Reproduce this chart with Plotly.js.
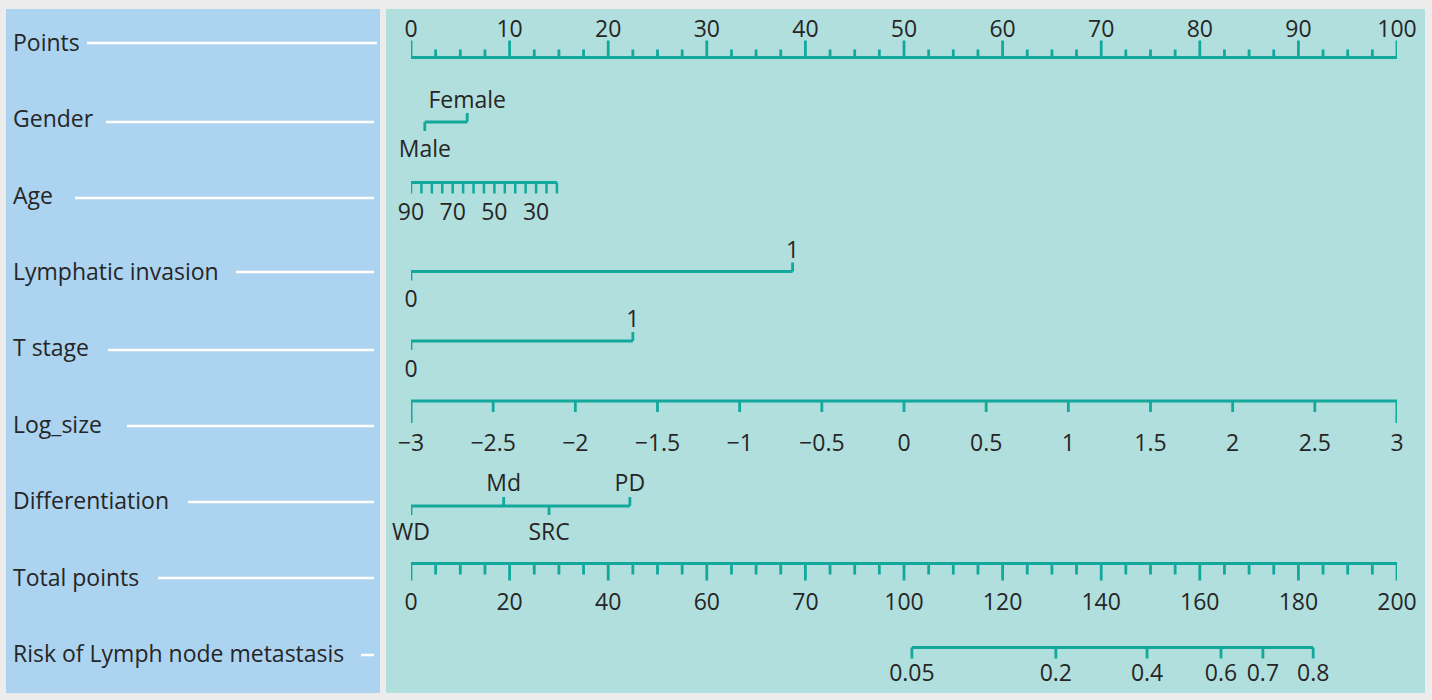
<!DOCTYPE html>
<html>
<head>
<meta charset="utf-8">
<script src="https://cdn.plot.ly/plotly-3.0.1.min.js"></script>
<style>
  html, body { margin: 0; padding: 0; background: #ececec; }
  #chart { width: 1432px; height: 700px; }
</style>
</head>
<body>
<div id="chart"></div>
<script>
// ---------------- DATA ----------------
const rowNames = ['Points', 'Gender', 'Age', 'Lymphatic invasion', 'T stage', 'Log_size',
                  'Differentiation', 'Total points', 'Risk of Lymph node metastasis'];

const pointsTicks = [0, 10, 20, 30, 40, 50, 60, 70, 80, 90, 100];

const genderLabels = ['Male', 'Female'];
const genderPoints = [1.4, 5.7];

const ageLabels = [90, 70, 50, 30];
const ageTicks = [90, 85, 80, 75, 70, 65, 60, 55, 50, 45, 40, 35, 30, 25, 20];
const ageMaxPoints = 14.8;          // points given to age 20 (age 90 = 0 points)

const lymphLabels = ['0', '1'];
const lymphPoints = [0, 38.7];

const tstageLabels = ['0', '1'];
const tstagePoints = [0, 22.5];

const logsizeTicks = [-3, -2.5, -2, -1.5, -1, -0.5, 0, 0.5, 1, 1.5, 2, 2.5, 3];
const logsizeLabels = ['\u22123', '\u22122.5', '\u22122', '\u22121.5', '\u22121', '\u22120.5',
                       '0', '0.5', '1', '1.5', '2', '2.5', '3'];

const diffLabels = ['WD', 'Md', 'SRC', 'PD'];
const diffPoints = [0, 9.4, 14.0, 22.2];

const totalTicks = [0, 20, 40, 60, 80, 100, 120, 140, 160, 180, 200];
const totalLabels = ['0', '20', '40', '60', '70', '100', '120', '140', '160', '180', '200'];

const riskLabels = ['0.05', '0.2', '0.4', '0.6', '0.7', '0.8'];
const riskTotalPoints = [101.6, 130.8, 149.3, 164.3, 172.8, 183.0];

// ---------------- STYLE / LAYOUT ----------------
const W = 1432, H = 700;
const TEAL = '#12a89c';
const TXT = '#262626';
const FONT = 'Open Sans, Noto Sans, sans-serif';
const FS = 23;
const TEXT_DY = 3;                  // vertical nudge for scatter text
const axisLeftPx = 411, axisRightPx = 1397;

// pixel rows (y measured from top)
const R = {
  points:  { line: 57.5, major: 17, minor: 8, label: 28 },
  gender:  { line: 122, tick: 9, above: 99, below: 148, sides: ['below', 'above'] },
  age:     { line: 182.5, tick: 11, label: 211 },
  lymph:   { line: 271.5, tick: 9, above: 249, below: 298, sides: ['below', 'above'] },
  tstage:  { line: 341, tick: 9, above: 318, below: 368, sides: ['below', 'above'] },
  logsize: { line: 401, tick: 11, endTick: 22, label: 442 },
  diff:    { line: 506, tick: 9, above: 482, below: 531, sides: ['below', 'above', 'below', 'above'] },
  total:   { line: 563.5, major: 17, minor: 11, label: 601 },
  risk:    { line: 647.5, tick: 11, label: 672 }
};

// left panel: label y centre and start of white rule
const leftRows = [
  { y: 42, rule: 87 }, { y: 118, rule: 106 }, { y: 195, rule: 75 }, { y: 271, rule: 236 },
  { y: 347, rule: 108 }, { y: 424, rule: 127 }, { y: 500, rule: 188 }, { y: 577, rule: 158 },
  { y: 653, rule: 361 }
];
const ruleY = [43, 122, 198, 272, 350, 426, 502, 578, 655];

// ---------------- helpers ----------------
function segs(xs, y0, y1) {
  const x = [], y = [];
  xs.forEach(v => { x.push(v, v, null); y.push(y0, y1, null); });
  return { x, y };
}
function lines(axis, x, y, width) {
  return { type: 'scatter', mode: 'lines', x, y, xaxis: axis, yaxis: 'y',
           line: { color: TEAL, width: width || 3 }, hoverinfo: 'skip', showlegend: false,
           cliponaxis: false };
}
function texts(axis, xs, y, t) {
  const ys = (Array.isArray(y) ? y : xs.map(() => y)).map(v => v + TEXT_DY);
  return { type: 'scatter', mode: 'text', x: xs, y: ys, text: t.map(String), xaxis: axis, yaxis: 'y',
           textposition: 'middle center', textfont: { family: FONT, size: FS, color: TXT },
           hoverinfo: 'skip', showlegend: false, cliponaxis: false };
}
function stepList(a, b, s, exclude) {
  const out = [];
  for (let v = a; v <= b + 1e-9; v += s) {
    if (!exclude.some(e => Math.abs(e - v) < 1e-9)) out.push(v);
  }
  return out;
}
function catRow(axis, pts, labels, row) {
  const tr = [];
  tr.push(lines(axis, [Math.min(...pts), Math.max(...pts)], [row.line, row.line], 3));
  const up = [], dn = [];
  pts.forEach((p, i) => (row.sides[i] === 'above' ? up : dn).push(p));
  const su = segs(up, row.line, row.line - row.tick);
  const sd = segs(dn, row.line, row.line + row.tick);
  tr.push(lines(axis, su.x.concat(sd.x), su.y.concat(sd.y), 2.8));
  tr.push(texts(axis, pts, pts.map((p, i) => row.sides[i] === 'above' ? row.above : row.below), labels));
  return tr;
}

const traces = [];

// Points
traces.push(lines('x', [pointsTicks[0], pointsTicks[pointsTicks.length - 1]], [R.points.line, R.points.line], 3));
let s = segs(pointsTicks, R.points.line, R.points.line - R.points.major);
traces.push(lines('x', s.x, s.y, 2.8));
s = segs(stepList(0, 100, 2.5, pointsTicks), R.points.line, R.points.line - R.points.minor);
traces.push(lines('x', s.x, s.y, 2.8));
traces.push(texts('x', pointsTicks, R.points.label, pointsTicks));

// Gender
traces.push(...catRow('x', genderPoints, genderLabels, R.gender));

// Age (own axis x4)
traces.push(lines('x4', [ageTicks[0], ageTicks[ageTicks.length - 1]], [R.age.line, R.age.line], 3));
s = segs(ageTicks, R.age.line, R.age.line + R.age.tick);
traces.push(lines('x4', s.x, s.y, 2.5));
traces.push(texts('x4', ageLabels, R.age.label, ageLabels));

// Lymphatic invasion, T stage
traces.push(...catRow('x', lymphPoints, lymphLabels, R.lymph));
traces.push(...catRow('x', tstagePoints, tstageLabels, R.tstage));

// Log_size (axis x2)
traces.push(lines('x2', [logsizeTicks[0], logsizeTicks[logsizeTicks.length - 1]], [R.logsize.line, R.logsize.line], 3));
const lsEnds = [logsizeTicks[0], logsizeTicks[logsizeTicks.length - 1]];
s = segs(logsizeTicks.filter(v => !lsEnds.includes(v)), R.logsize.line, R.logsize.line + R.logsize.tick);
traces.push(lines('x2', s.x, s.y, 2.8));
s = segs(lsEnds, R.logsize.line, R.logsize.line + R.logsize.endTick);
traces.push(lines('x2', s.x, s.y, 3));
traces.push(texts('x2', logsizeTicks, R.logsize.label, logsizeLabels));

// Differentiation
traces.push(...catRow('x', diffPoints, diffLabels, R.diff));

// Total points (axis x3)
traces.push(lines('x3', [totalTicks[0], totalTicks[totalTicks.length - 1]], [R.total.line, R.total.line], 3));
s = segs(totalTicks, R.total.line, R.total.line + R.total.major);
traces.push(lines('x3', s.x, s.y, 2.8));
s = segs(stepList(0, 200, 5, totalTicks), R.total.line, R.total.line + R.total.minor);
traces.push(lines('x3', s.x, s.y, 2.8));
traces.push(texts('x3', totalTicks, R.total.label, totalLabels));

// Risk (on total points axis)
traces.push(lines('x3', [riskTotalPoints[0], riskTotalPoints[riskTotalPoints.length - 1]], [R.risk.line, R.risk.line], 3));
s = segs(riskTotalPoints, R.risk.line, R.risk.line + R.risk.tick);
traces.push(lines('x3', s.x, s.y, 2.8));
traces.push(texts('x3', riskTotalPoints, R.risk.label, riskLabels));

// ---------------- layout ----------------
const dom = [axisLeftPx / W, axisRightPx / W];
const hidden = { visible: false, fixedrange: true, showgrid: false, zeroline: false };
const ageRange = [ageTicks[0], ageTicks[0] - (ageTicks[0] - ageTicks[ageTicks.length - 1]) * 100 / ageMaxPoints];

const shapes = [
  { type: 'rect', xref: 'paper', yref: 'y', x0: 6 / W, x1: 380 / W, y0: 9, y1: 693,
    fillcolor: '#acd4f1', line: { width: 0 }, layer: 'below' },
  { type: 'rect', xref: 'paper', yref: 'y', x0: 386 / W, x1: 1425 / W, y0: 9, y1: 693,
    fillcolor: '#b1dfdd', line: { width: 0 }, layer: 'below' }
];
leftRows.forEach((r, i) => {
  shapes.push({ type: 'line', xref: 'paper', yref: 'y', x0: r.rule / W, x1: (i === 0 ? 377 : 374) / W,
                y0: ruleY[i], y1: ruleY[i], line: { color: '#ffffff', width: 2.5 } });
});
const annotations = rowNames.map((n, i) => ({
  text: n, xref: 'paper', yref: 'y', x: 11 / W, y: leftRows[i].y, xanchor: 'left', yanchor: 'middle',
  showarrow: false, font: { family: FONT, size: FS, color: TXT }
}));

const layout = {
  width: W, height: H,
  margin: { l: 0, r: 0, t: 0, b: 0, pad: 0 },
  paper_bgcolor: '#ececec', plot_bgcolor: 'rgba(0,0,0,0)',
  showlegend: false, hovermode: false,
  xaxis:  Object.assign({}, hidden, { domain: dom, range: [0, 100] }),
  xaxis2: Object.assign({}, hidden, { domain: dom, range: [-3, 3], overlaying: 'x' }),
  xaxis3: Object.assign({}, hidden, { domain: dom, range: [0, 200], overlaying: 'x' }),
  xaxis4: Object.assign({}, hidden, { domain: dom, range: ageRange, overlaying: 'x' }),
  yaxis:  Object.assign({}, hidden, { domain: [0, 1], range: [H, 0] }),
  shapes, annotations
};

Plotly.newPlot('chart', traces, layout, { staticPlot: true, displayModeBar: false });
</script>
</body>
</html>
